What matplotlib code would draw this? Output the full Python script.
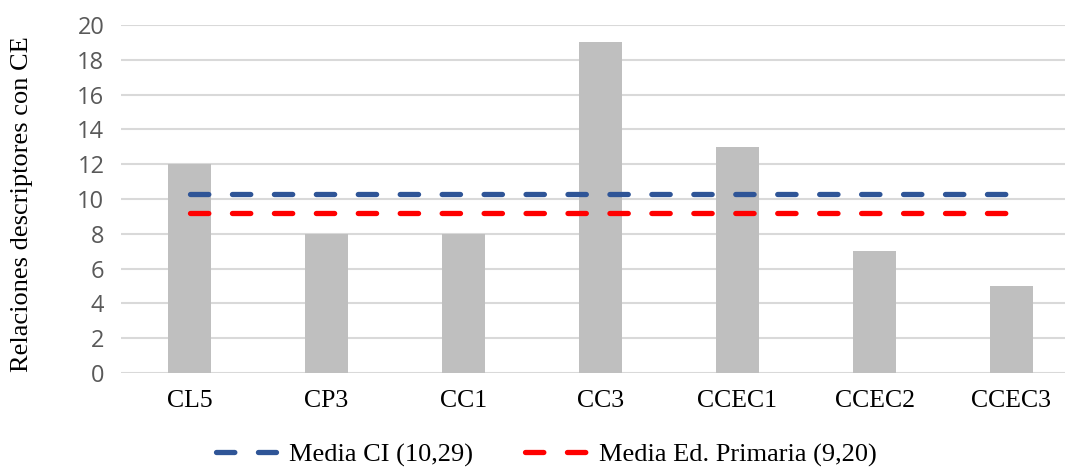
import numpy as np
import matplotlib.pyplot as plt

categorias = ['CL5', 'CP3', 'CC1', 'CC3', 'CCEC1', 'CCEC2', 'CCEC3']
relaciones = [12, 8, 8, 19, 13, 7, 5]
media_ci = 10.29
media_primaria = 9.20

plt.rcParams['lines.scale_dashes'] = False

fig = plt.figure(figsize=(10.65, 4.68), dpi=100)
ax = fig.add_axes([121 / 1065, 1 - 373 / 468, 959 / 1065, 348 / 468])

x = np.arange(len(categorias))
ax.bar(x, relaciones, width=0.315, color='#BFBFBF', zorder=2)

ax.plot(x, [media_ci] * len(x), color='#2F5597', lw=3.8, dashes=(13.2, 17.0),
        dash_capstyle='round', label='Media CI (10,29)', zorder=3)
ax.plot(x, [media_primaria] * len(x), color='#FF0000', lw=3.8, dashes=(13.2, 17.0),
        dash_capstyle='round', label='Media Ed. Primaria (9,20)', zorder=3)

ax.set_xlim(-0.5, 6.5)
ax.set_ylim(0, 20)
ax.set_yticks(range(0, 21, 2))
ax.set_xticks(x)
ax.set_xticklabels(categorias, family='Liberation Serif', fontsize=18.5)
for lab in ax.get_yticklabels():
    lab.set_family('Open Sans')
ax.tick_params(axis='y', labelsize=17, labelcolor='#595959', length=0, pad=12)
ax.tick_params(axis='x', length=0, pad=12)
ax.grid(axis='y', color='#D9D9D9', lw=1.5, zorder=0)
for s in ['top', 'right', 'left', 'bottom']:
    ax.spines[s].set_visible(False)

fig.text(22 / 1065, 1 - 204 / 468, 'Relaciones descriptores con CE', rotation=90,
         ha='center', va='center', family='Liberation Serif', fontsize=19)

fig.legend(loc='center', bbox_to_anchor=(546 / 1065, 1 - 455 / 468), ncol=2, frameon=False,
           prop={'family': 'Liberation Serif', 'size': 19}, handlelength=2.3,
           columnspacing=1.95, handletextpad=0.5)

fig.savefig('out.png', dpi=100)
